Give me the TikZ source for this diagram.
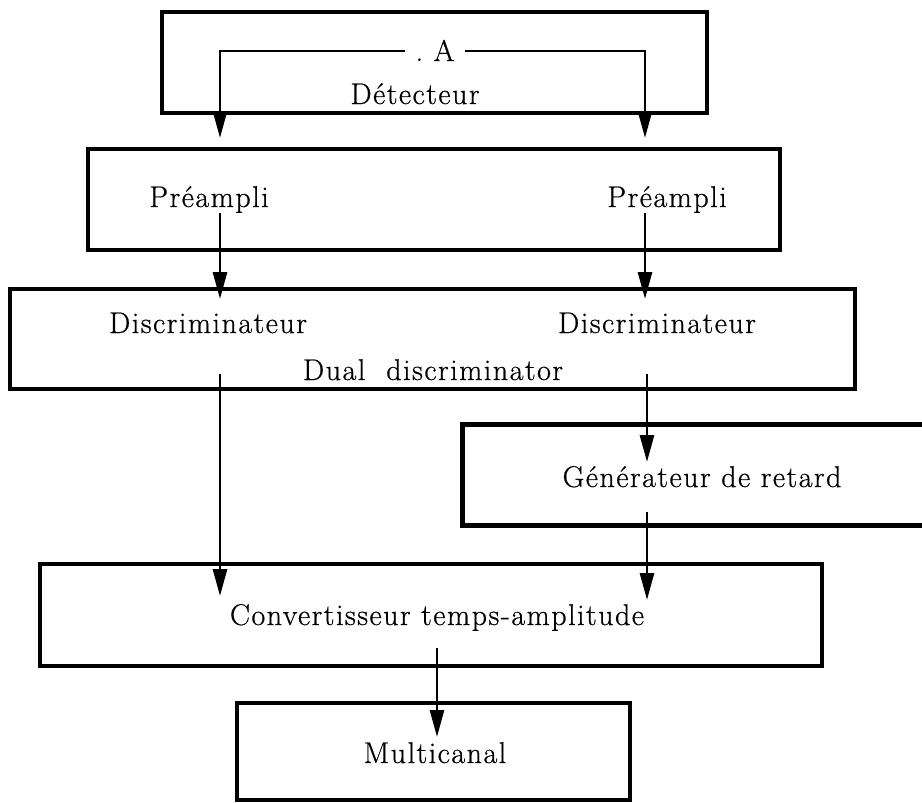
\documentclass[tikz,border=0pt]{standalone}
\usepackage{fontspec}
\newfontfamily\lblfont{Latin Modern Roman}[LetterSpace=5,FakeBold=0.6]
\usetikzlibrary{arrows.meta}
\begin{document}
\begin{tikzpicture}[x=1pt,y=-1pt,
  blk/.style={draw, line width=4.8pt, inner sep=0pt},
  hidden/.style={inner sep=0pt},
  lbl/.style={font=\lblfont\fontsize{30}{36}\selectfont, inner sep=0pt, anchor=base},
  arr/.style={line width=2.8pt, -{Triangle[length=27pt,width=14pt]}}]
\useasboundingbox (0,0) rectangle (922,803);
% boxes
\node[blk, minimum width=545pt, minimum height=101pt] (det) at (434.5,62.5) {};
\node[blk, minimum width=692pt, minimum height=101pt] (pre) at (434,199.5) {};
\node[blk, minimum width=845pt, minimum height=100pt] (disc) at (432.5,339) {};
\node[hidden, minimum width=459pt, minimum height=100pt] (gen) at (692.5,475) {};
\draw[line width=4.8pt] (gen.north east) -- (gen.north west) -- (gen.south west) -- (gen.south east);
\node[blk, minimum width=782pt, minimum height=102pt] (conv) at (431,615) {};
\node[blk, minimum width=393pt, minimum height=97pt] (multi) at (433.5,751.5) {};
% texts
\node[lbl, inner xsep=10pt] (A) at (435,61) {.\ A};
\node[lbl] (tdet) at (415,104) {Détecteur};
\node[lbl] (tpreL) at (209,207) {Préampli};
\node[lbl] (tpreR) at (667,207) {Préampli};
\node[lbl] (tdiscL) at (208,333) {Discriminateur};
\node[lbl] (tdiscR) at (657,333) {Discriminateur};
\node[lbl] (tdual) at (433,380) {Dual\hspace{0.7em}discriminator};
\node[lbl] (tgen) at (702,487) {Générateur de retard};
\node[lbl] (tconv) at (437,625) {Convertisseur temps-amplitude};
\node[lbl] (tmulti) at (435,763) {Multicanal};
% arrow end points
\coordinate (dL) at (220,138);
\coordinate (dR) at (645,138);
\coordinate (pLs) at (220,213);
\coordinate (pLe) at (220,299);
\coordinate (pRs) at (645,213);
\coordinate (pRe) at (645,299);
\coordinate (qLs) at (220,374);
\coordinate (qLe) at (220,596);
\coordinate (qRs) at (647,374);
\coordinate (qRe) at (647,462);
\coordinate (gs) at (647,512);
\coordinate (ge) at (647,600);
\coordinate (cs) at (437,648);
\coordinate (ce) at (437,737);
% connectors
\draw[arr] (A.west |- 0,51) -| (dL);
\draw[arr] (A.east |- 0,51) -| (dR);
\draw[arr] (pLs) -- (pLe);
\draw[arr] (pRs) -- (pRe);
\draw[arr] (qLs) -- (qLe);
\draw[arr] (qRs) -- (qRe);
\draw[arr] (gs) -- (ge);
\draw[arr] (cs) -- (ce);
\end{tikzpicture}
\end{document}
